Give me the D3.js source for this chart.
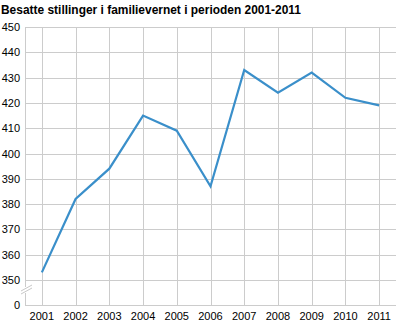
<!DOCTYPE html>
<html><head><meta charset="utf-8">
<script src="https://cdn.jsdelivr.net/npm/d3@7"></script>
<style>body{margin:0;background:#fff;}svg{display:block;}</style>
</head><body>
<svg id="c" width="397" height="323"></svg>
<script>
const title = "Besatte stillinger i familievernet i perioden 2001-2011";
const years = ["2001","2002","2003","2004","2005","2006","2007","2008","2009","2010","2011"];
const values = [353, 382, 394, 415, 409, 387, 433, 424, 432, 422, 419];
const yTicks = [350,360,370,380,390,400,410,420,430,440,450];

(function(){
const svg = d3.select("#c");
const pL = 25, pR = 396, pT = 27, y350 = 280, pB = 305;
const x = d3.scaleBand().domain(years).range([pL, pR]);
const y = d3.scaleLinear().domain([350, 450]).range([y350, pT]);
const font = "'Liberation Sans', Arial, sans-serif";

svg.append("text").attr("x", 1).attr("y", 14).text(title)
  .attr("font-family", font).attr("font-weight", "bold").attr("font-size", 12.5)
  .attr("textLength", 300).attr("lengthAdjust","spacingAndGlyphs").attr("fill", "#000");

const g = svg.append("g");
g.selectAll("line.h").data(yTicks).enter().append("line")
  .attr("x1", pL).attr("x2", pR).attr("y1", d => Math.round(y(d))+0.5).attr("y2", d => Math.round(y(d))+0.5)
  .attr("stroke", "#cccccc").attr("stroke-width", 1);
g.selectAll("line.v").data(years).enter().append("line")
  .attr("x1", d => Math.round(x(d)+x.bandwidth()/2)+0.5).attr("x2", d => Math.round(x(d)+x.bandwidth()/2)+0.5)
  .attr("y1", pT).attr("y2", pB).attr("stroke", "#cccccc").attr("stroke-width", 1);
g.append("line").attr("x1", pL+0.5).attr("x2", pL+0.5).attr("y1", pT).attr("y2", pB)
  .attr("stroke", "#cccccc");
g.append("line").attr("x1", pL).attr("x2", pR).attr("y1", pB+0.5).attr("y2", pB+0.5)
  .attr("stroke", "#cccccc");
g.append("rect").attr("x", pL-0.5).attr("y", 287).attr("width", 2).attr("height", 6).attr("fill", "#fff");
[0, 3].forEach(o => {
  g.append("line").attr("x1", 21).attr("y1", 291+o).attr("x2", 32).attr("y2", 285+o)
   .attr("stroke", "#c8c8c8").attr("stroke-width", 1);
});

svg.selectAll("text.yl").data(yTicks).enter().append("text")
  .attr("x", 20).attr("y", d => y(d) + 4).attr("text-anchor", "end")
  .attr("font-family", font).attr("font-size", 11).attr("fill", "#000").text(d => d);
svg.append("text").attr("x", 20).attr("y", pB + 4).attr("text-anchor", "end")
  .attr("font-family", font).attr("font-size", 11).attr("fill", "#000").text("0");
svg.selectAll("text.xl").data(years).enter().append("text")
  .attr("x", d => x(d) + x.bandwidth()/2).attr("y", 320).attr("text-anchor", "middle")
  .attr("font-family", font).attr("font-size", 11).attr("fill", "#000").text(d => d);

const line = d3.line().x((d,i) => x(years[i]) + x.bandwidth()/2).y(d => y(d));
svg.append("path").datum(values).attr("d", line).attr("fill", "none")
  .attr("stroke", "#3a8fca").attr("stroke-width", 2.2).attr("stroke-linejoin", "miter");
})();
</script>
</body></html>
